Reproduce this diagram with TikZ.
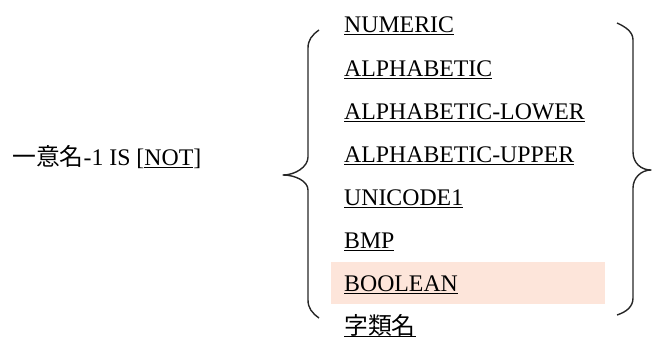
\documentclass[tikz,border=0pt]{standalone}
\usepackage{fontspec}
\setmainfont{Liberation Serif}
\newfontfamily\cjk{Noto Sans CJK JP}
\newsavebox{\ulbox}
\newcommand{\myul}[1]{\sbox{\ulbox}{#1}\rlap{\rule[-2.6pt]{\wd\ulbox}{0.9pt}}\usebox{\ulbox}}
\definecolor{hl}{RGB}{253,229,218}
\tikzset{
  item/.style={anchor=base west, inner sep=0pt, font=\fontsize{23.8}{26}\selectfont},
  brace/.style={draw=black!85, line width=1.4pt, line join=round}
}
\begin{document}
\begin{tikzpicture}[x=1pt,y=-1pt]
\useasboundingbox (0,0) rectangle (652,338);
\fill[hl] (331,262) rectangle (605,304);
\node[item] (subj) at (12,165) {{\cjk 一意名}-1 IS [\myul{NOT}]};
\node[item] (n1) at (344,32) {\myul{NUMERIC}};
\node[item] (n2) at (344,76) {\myul{ALPHABETIC}};
\node[item] (n3) at (344,119) {\myul{ALPHABETIC-LOWER}};
\node[item] (n4) at (344,162) {\myul{ALPHABETIC-UPPER}};
\node[item] (n5) at (344,205) {\myul{UNICODE1}};
\node[item] (n6) at (344,248) {\myul{BMP}};
\node[item] (n7) at (344,291) {\myul{BOOLEAN}};
\node[item] (n8) at (344,334) {\myul{\cjk 字類名}};
% left brace
\draw[brace] (319,30) .. controls (312,35) and (308,40) .. (308,48)
  -- (308,157) .. controls (308,167) and (295,175) .. (283,175)
  .. controls (295,175) and (308,181) .. (308,190)
  -- (308,300) .. controls (308,308) and (312,313) .. (319,318);
% right brace
\draw[brace] (617,23) .. controls (626,27) and (633,32) .. (633,40)
  -- (633,152) .. controls (633,163) and (641,170) .. (651,170)
  .. controls (641,170) and (633,178) .. (633,188)
  -- (633,298) .. controls (633,307) and (626,312) .. (617,315);
\end{tikzpicture}
\end{document}
